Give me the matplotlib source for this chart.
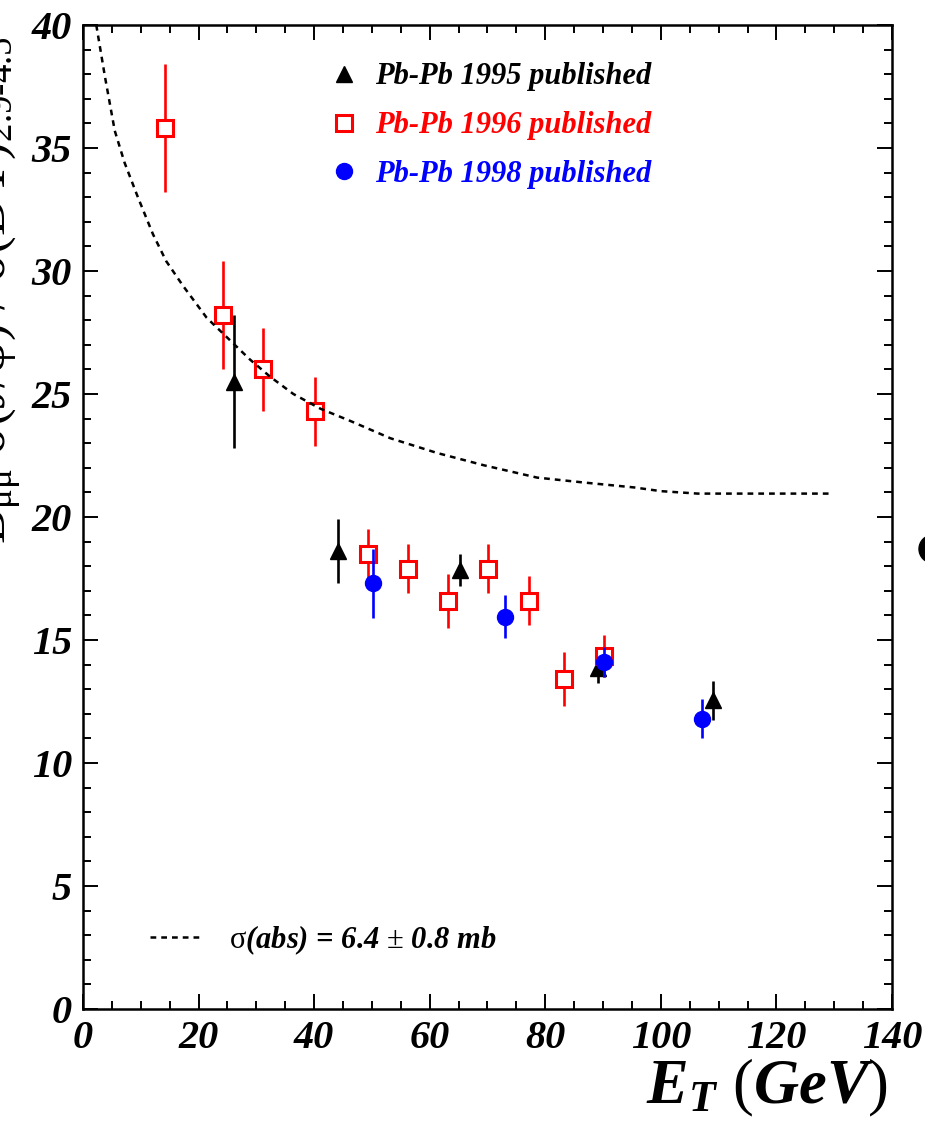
import matplotlib.pyplot as plt
from matplotlib.lines import Line2D
from matplotlib.patches import Ellipse

plt.rcParams['mathtext.fontset'] = 'custom'
plt.rcParams['mathtext.rm'] = 'Liberation Serif'
plt.rcParams['mathtext.it'] = 'Liberation Serif:bold:italic'
plt.rcParams['mathtext.bf'] = 'Liberation Serif:bold'

# Pb-Pb 1995 published
et_95 = [26.2, 44.2, 65.2, 89.1, 109.1]
r_95 = [25.5, 18.6, 17.85, 13.85, 12.55]
e_95 = [2.7, 1.3, 0.65, 0.6, 0.8]

# Pb-Pb 1996 published
et_96 = [14.2, 24.2, 31.2, 40.2, 49.3, 56.2, 63.1, 70.1, 77.2, 83.2, 90.2]
r_96 = [35.8, 28.2, 26.0, 24.3, 18.5, 17.9, 16.6, 17.9, 16.6, 13.4, 14.35]
e_96 = [2.6, 2.2, 1.7, 1.4, 1.0, 1.0, 1.1, 1.0, 1.0, 1.1, 0.87]

# Pb-Pb 1998 published
et_98 = [50.2, 73.1, 90.1, 107.1]
r_98 = [17.3, 15.95, 14.1, 11.8]
e_98 = [1.4, 0.87, 0.6, 0.8]

# absorption curve, sigma(abs) = 6.4 mb
curve_x = [2.3, 3.8, 5.5, 7.2, 9.5, 12.1, 14.4, 17.3, 21.4, 28.9, 32.4, 36.4,
           41.1, 46.3, 53.2, 61.3, 69.4, 78.6, 86.7, 95.4, 100.0, 106.4, 129.2]
curve_y = [40.0, 37.9, 35.7, 34.4, 33.0, 31.5, 30.4, 29.4, 28.1, 26.4, 25.7, 25.0,
           24.4, 23.9, 23.2, 22.6, 22.1, 21.6, 21.4, 21.2, 21.05, 20.95, 20.95]

labels = ['Pb-Pb 1995 published', 'Pb-Pb 1996 published', 'Pb-Pb 1998 published']

bi = dict(family='Liberation Serif', weight='bold', style='italic')

fig = plt.figure(figsize=(9.25, 11.29), dpi=100)
ax = fig.add_axes([0.0897, 0.1063, 0.8746, 0.8716])

ax.errorbar(et_95, r_95, yerr=e_95, fmt='^', color='black', ms=12,
            elinewidth=1.9, capsize=0, zorder=3)
ax.errorbar(et_96, r_96, yerr=e_96, fmt='s', color='red', mfc='white', ms=11,
            mew=2.2, elinewidth=1.9, capsize=0, zorder=4)
ax.errorbar(et_98, r_98, yerr=e_98, fmt='o', color='blue', ms=11.5,
            elinewidth=1.9, capsize=0, zorder=5)
ax.plot(curve_x, curve_y, color='black', lw=1.8, ls=(0, (2.3, 2.0)), zorder=6)

ax.set_xlim(0, 140)
ax.set_ylim(0, 40)
ax.set_xticks(range(0, 141, 20))
ax.set_xticks(range(0, 141, 5), minor=True)
ax.set_yticks(range(0, 41, 5))
ax.set_yticks(range(0, 41, 1), minor=True)
ax.tick_params(which='both', direction='in', top=True, right=True, width=1.4)
ax.tick_params(which='major', length=11, pad=8)
ax.tick_params(which='minor', length=6)
for s in ax.spines.values():
    s.set_linewidth(1.8)
for lab in ax.get_xticklabels() + ax.get_yticklabels():
    lab.set_fontproperties(dict(bi, size=29))

handles = [Line2D([], [], ls='none', marker='^', color='black', ms=12),
           Line2D([], [], ls='none', marker='s', color='red', mfc='white', ms=11, mew=2.2),
           Line2D([], [], ls='none', marker='o', color='blue', ms=11.5)]
leg = ax.legend(handles, labels, loc='upper left', bbox_to_anchor=(0.304, 0.962),
                frameon=False, prop=dict(bi, size=22), handlelength=1.0,
                handletextpad=0.5, labelspacing=0.65, borderpad=0, borderaxespad=0,
                labelcolor=['black', 'red', 'blue'])
ax.add_artist(leg)

ax.legend([Line2D([], [], color='black', lw=1.8, ls=(0, (2.3, 2.0)))],
          [r'$\mathrm{\sigma}$(abs) = 6.4 $\mathrm{\pm}$ 0.8 mb'],
          loc='center left', bbox_to_anchor=(0.083, 0.070), frameon=False,
          prop=dict(bi, size=22), handlelength=1.64, handletextpad=0.95,
          borderpad=0, borderaxespad=0)

fig.text(888 / 925, 1 - 1103 / 1129, r'$\mathit{E_T\ (GeV)}$', fontsize=45,
         ha='right', va='baseline')
# y title sits mostly outside the left edge, as in the source figure
fig.text(6 / 925, 1 - 290 / 1129, r'B$_{\mathrm{μμ}}$ σ(J/ψ) / σ(DY)$_{2.9\text{-}4.5}$',
         family='Liberation Serif', fontsize=38, rotation=90,
         rotation_mode='anchor', ha='center', va='baseline')

# edge of the neighbouring panel's marker
fig.add_artist(Ellipse((933 / 925, 1 - 549 / 1129), 28 / 925, 28 / 1129,
                       transform=fig.transFigure, color='black'))

fig.savefig('out.png', dpi=100)
